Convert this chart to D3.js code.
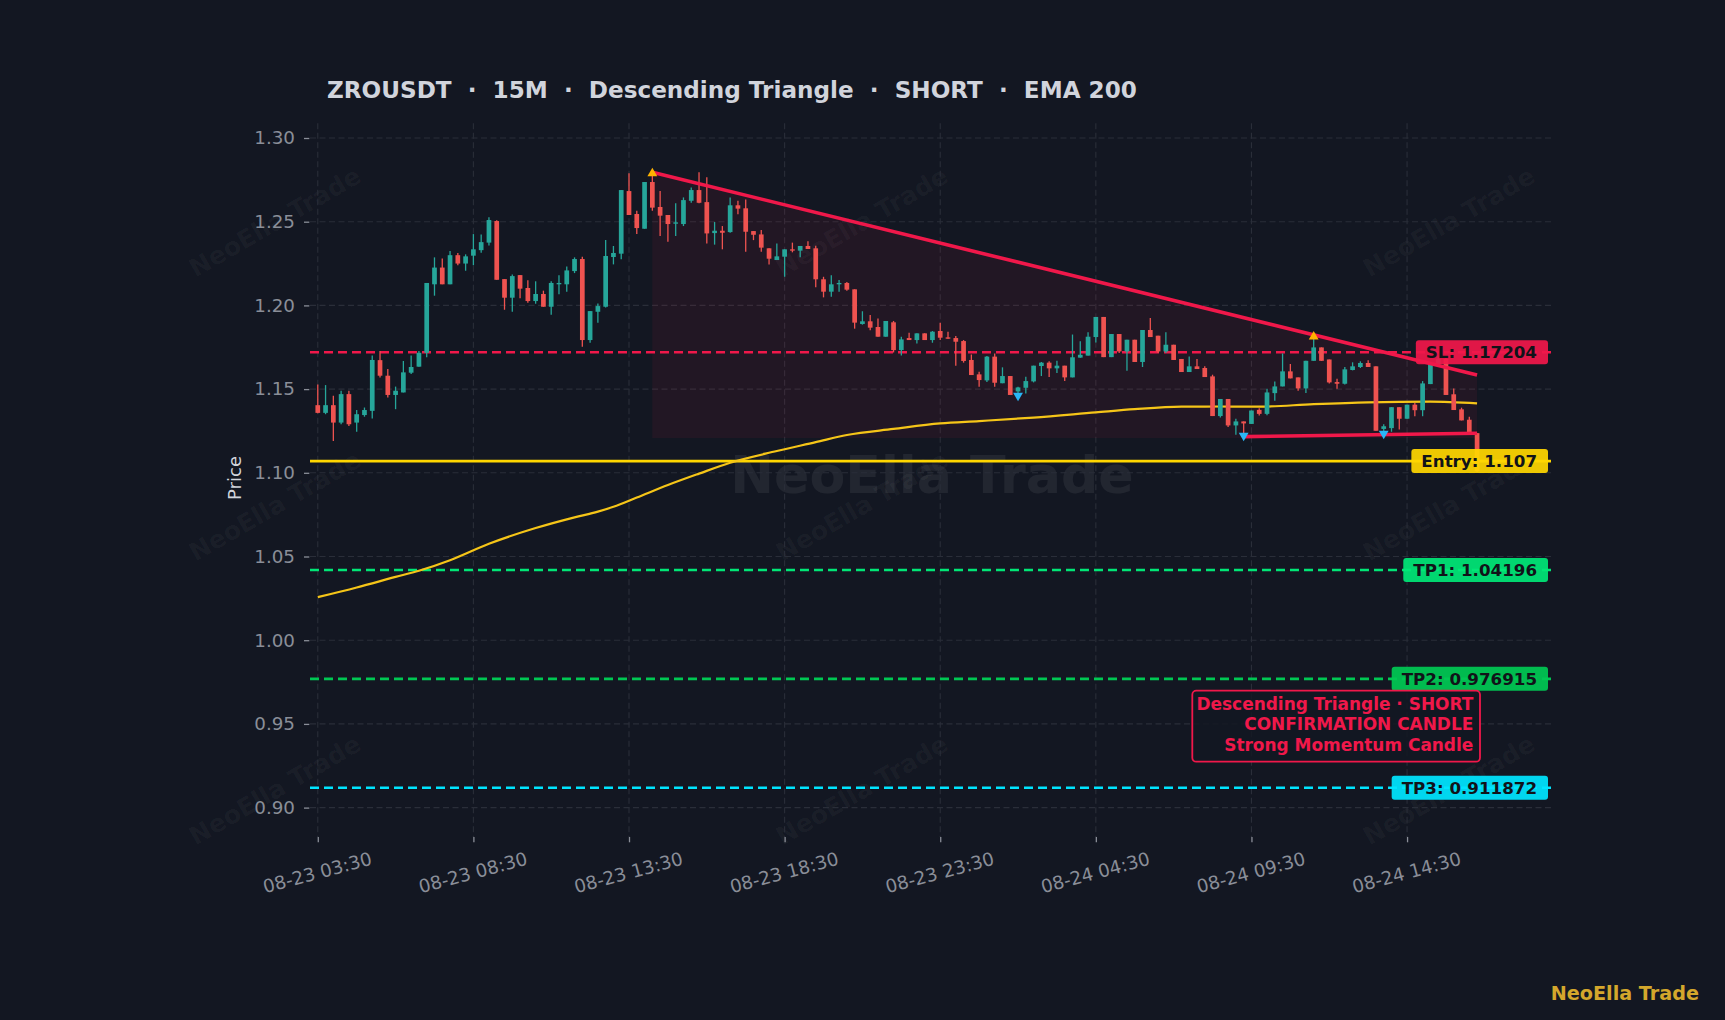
<!DOCTYPE html>
<html>
<head>
<meta charset="utf-8">
<script src="https://cdn.jsdelivr.net/npm/d3@7"></script>
<style>
  body { margin: 0; background: #131722; }
  text { font-family: "DejaVu Sans", sans-serif; }
</style>
</head>
<body>
<div id="chart"></div>
<script>
// ZROUSDT 15M candles, 08-23 03:30 onwards
const opens = [1.1404,1.1358,1.1404,1.1300,1.1470,1.1300,1.1345,1.1370,1.1673,1.1580,
  1.1465,1.1480,1.1598,1.1634,1.1717,1.2126,1.2226,1.2126,1.2300,1.2250,
  1.2297,1.2330,1.2375,1.2504,1.2157,1.2046,1.2181,1.2104,1.2026,1.2068,
  1.1992,1.2126,1.2126,1.2205,1.2277,1.1793,1.1962,1.1992,1.2289,1.2309,
  1.2683,1.2546,1.2458,1.2737,1.2588,1.2540,1.2488,1.2486,1.2625,1.2689,
  1.2617,1.2432,1.2446,1.2438,1.2598,1.2580,1.2444,1.2424,1.2341,1.2271,
  1.2291,1.2335,1.2327,1.2355,1.2341,1.2156,1.2082,1.2126,1.2134,1.2096,
  1.1889,1.1905,1.1871,1.1813,1.1899,1.1733,1.1805,1.1793,1.1833,1.1793,
  1.1847,1.1809,1.1805,1.1787,1.1674,1.1588,1.1552,1.1694,1.1535,1.1578,
  1.1486,1.1508,1.1546,1.1638,1.1658,1.1624,1.1640,1.1570,1.1688,1.1700,
  1.1811,1.1931,1.1691,1.1829,1.1725,1.1795,1.1662,1.1853,1.1819,1.1725,
  1.1765,1.1680,1.1602,1.1636,1.1626,1.1576,1.1339,1.1441,1.1283,1.1307,
  1.1292,1.1376,1.1352,1.1476,1.1516,1.1606,1.1570,1.1504,1.1669,1.1749,
  1.1677,1.1542,1.1532,1.1614,1.1632,1.1656,1.1636,1.1262,1.1267,1.1392,
  1.1323,1.1407,1.1374,1.1530,1.1650,1.1680,1.1469,1.1379,1.1317,1.1237];
const highs = [1.1528,1.1524,1.1460,1.1490,1.1490,1.1375,1.1390,1.1700,1.1727,1.1620,
  1.1515,1.1668,1.1700,1.1727,1.2134,1.2287,1.2280,1.2325,1.2313,1.2305,
  1.2426,1.2424,1.2526,1.2508,1.2157,1.2185,1.2181,1.2150,1.2144,1.2088,
  1.2144,1.2180,1.2233,1.2287,1.2291,1.1966,1.2012,1.2390,1.2355,1.2689,
  1.2789,1.2566,1.2737,1.2795,1.2683,1.2540,1.2610,1.2645,1.2705,1.2795,
  1.2765,1.2498,1.2474,1.2645,1.2625,1.2633,1.2444,1.2450,1.2341,1.2370,
  1.2335,1.2375,1.2355,1.2383,1.2357,1.2171,1.2180,1.2152,1.2140,1.2096,
  1.1965,1.1942,1.1922,1.1907,1.1907,1.1813,1.1837,1.1833,1.1833,1.1847,
  1.1897,1.1843,1.1817,1.1793,1.1707,1.1604,1.1698,1.1713,1.1630,1.1578,
  1.1514,1.1574,1.1640,1.1662,1.1666,1.1670,1.1640,1.1826,1.1786,1.1840,
  1.1931,1.1931,1.1829,1.1829,1.1795,1.1795,1.1853,1.1924,1.1819,1.1840,
  1.1765,1.1680,1.1694,1.1680,1.1636,1.1586,1.1441,1.1441,1.1323,1.1307,
  1.1372,1.1386,1.1502,1.1546,1.1713,1.1650,1.1570,1.1669,1.1819,1.1749,
  1.1677,1.1562,1.1632,1.1660,1.1666,1.1672,1.1636,1.1290,1.1392,1.1392,
  1.1407,1.1417,1.1548,1.1660,1.1700,1.1690,1.1504,1.1389,1.1335,1.1237];
const lows = [1.1355,1.1350,1.1190,1.1290,1.1280,1.1245,1.1335,1.1325,1.1570,1.1450,
  1.1380,1.1480,1.1590,1.1634,1.1690,1.2058,1.2126,1.2126,1.2240,1.2207,
  1.2240,1.2315,1.2358,1.2153,1.1974,1.1962,1.2042,1.2016,1.2010,1.1992,
  1.1944,1.2066,1.2082,1.2193,1.1753,1.1777,1.1897,1.1988,1.2245,1.2275,
  1.2540,1.2426,1.2458,1.2566,1.2414,1.2380,1.2414,1.2474,1.2613,1.2610,
  1.2370,1.2363,1.2335,1.2434,1.2544,1.2320,1.2390,1.2320,1.2245,1.2271,
  1.2171,1.2317,1.2287,1.2337,1.2108,1.2048,1.2052,1.2082,1.2088,1.1861,
  1.1885,1.1851,1.1813,1.1813,1.1719,1.1700,1.1793,1.1773,1.1793,1.1777,
  1.1793,1.1801,1.1640,1.1658,1.1584,1.1514,1.1542,1.1514,1.1535,1.1465,
  1.1458,1.1474,1.1540,1.1578,1.1572,1.1596,1.1548,1.1570,1.1688,1.1700,
  1.1779,1.1691,1.1691,1.1715,1.1609,1.1662,1.1632,1.1811,1.1715,1.1715,
  1.1674,1.1602,1.1602,1.1620,1.1572,1.1339,1.1331,1.1273,1.1227,1.1216,
  1.1292,1.1342,1.1344,1.1430,1.1516,1.1564,1.1490,1.1476,1.1669,1.1669,
  1.1534,1.1502,1.1528,1.1612,1.1626,1.1632,1.1251,1.1228,1.1245,1.1259,
  1.1323,1.1338,1.1338,1.1530,1.1648,1.1465,1.1375,1.1313,1.1237,1.1005];
const closes = [1.1358,1.1404,1.1300,1.1470,1.1290,1.1350,1.1375,1.1674,1.1580,1.1465,
  1.1490,1.1600,1.1632,1.1717,1.2134,1.2226,1.2126,1.2300,1.2250,1.2293,
  1.2335,1.2378,1.2510,1.2153,1.2046,1.2175,1.2100,1.2026,1.2068,1.1992,
  1.2134,1.2134,1.2209,1.2277,1.1793,1.1966,1.1996,1.2295,1.2313,1.2689,
  1.2540,1.2462,1.2737,1.2584,1.2536,1.2486,1.2496,1.2629,1.2689,1.2613,
  1.2430,1.2446,1.2434,1.2598,1.2578,1.2440,1.2422,1.2345,1.2279,1.2293,
  1.2335,1.2327,1.2355,1.2337,1.2156,1.2082,1.2126,1.2134,1.2094,1.1897,
  1.1905,1.1867,1.1813,1.1907,1.1733,1.1797,1.1793,1.1833,1.1793,1.1843,
  1.1807,1.1801,1.1783,1.1668,1.1584,1.1554,1.1694,1.1538,1.1578,1.1465,
  1.1510,1.1548,1.1640,1.1658,1.1624,1.1640,1.1570,1.1690,1.1705,1.1813,
  1.1931,1.1691,1.1829,1.1725,1.1795,1.1662,1.1853,1.1811,1.1725,1.1765,
  1.1674,1.1602,1.1636,1.1620,1.1572,1.1339,1.1441,1.1283,1.1307,1.1295,
  1.1372,1.1352,1.1480,1.1516,1.1606,1.1564,1.1504,1.1669,1.1749,1.1669,
  1.1540,1.1532,1.1618,1.1636,1.1656,1.1632,1.1251,1.1278,1.1392,1.1323,
  1.1407,1.1374,1.1534,1.1650,1.1680,1.1465,1.1375,1.1313,1.1237,1.1010];

// EMA 200 read at some candle indexes
const emaIdx  = [0, 5, 10, 13, 17, 22, 28, 33, 36, 38, 41, 45, 49, 53, 59, 64, 68, 74, 80, 85, 92, 100, 105, 111, 116, 121, 128, 135, 143, 149];
const emaVals = [1.0257, 1.0315, 1.0378, 1.0415, 1.0478, 1.0576, 1.0670, 1.0734, 1.0768, 1.0797, 1.0852, 1.0927, 1.0995, 1.1060, 1.1130,
  1.1183, 1.1226, 1.1262, 1.1295, 1.1309, 1.1330, 1.1361, 1.1380, 1.1395, 1.1396, 1.1395, 1.1410, 1.1421, 1.1425, 1.1415];

const xTickIdx = [0, 20, 40, 60, 80, 100, 120, 140];
const xTickLabels = ["08-23 03:30", "08-23 08:30", "08-23 13:30", "08-23 18:30", "08-23 23:30", "08-24 04:30", "08-24 09:30", "08-24 14:30"];
const yTicks = [0.90, 0.95, 1.00, 1.05, 1.10, 1.15, 1.20, 1.25, 1.30];

// trade levels
const levelNames  = ["SL", "Entry", "TP1", "TP2", "TP3"];
const levelValues = [1.17204, 1.107, 1.04196, 0.976915, 0.911872];
const levelText   = ["SL: 1.17204", "Entry: 1.107", "TP1: 1.04196", "TP2: 0.976915", "TP3: 0.911872"];

// pattern geometry: [candle index, price]
const upperLine  = [[43, 1.2795], [149, 1.1584]];
const lowerLine  = [[119, 1.1216], [149, 1.1236]];
const pivotHighs = [[43, 1.2795], [128, 1.1819]];
const pivotLows  = [[90, 1.1455], [119, 1.1216], [137, 1.1228]];
const zoneFloor  = 1.1208;

const noteLines = ["Descending Triangle · SHORT", "CONFIRMATION CANDLE", "Strong Momentum Candle"];
const title = "ZROUSDT  ·  15M  ·  Descending Triangle  ·  SHORT  ·  EMA 200";

// ---- layout
const W = 1725, H = 1020;
const margin = {top: 123.3, right: 174, bottom: 183, left: 310};
const plotR = W - margin.right, plotB = H - margin.bottom;

const bg = "#131722", crimson = "#f0184a", green = "#26a69a", red = "#ef5350";
const levelColor = {SL: crimson, Entry: "#ffd600", TP1: "#00e676", TP2: "#00c853", TP3: "#00e5ff"};

const svg = d3.select("#chart").append("svg")
  .attr("width", W).attr("height", H)
  .style("display", "block");
svg.append("rect").attr("width", W).attr("height", H).attr("fill", bg);

const x = d3.scaleLinear().domain([-1, 158.5]).range([margin.left, plotR]);
const y = d3.scaleLinear().domain([0.88244, 1.30878]).range([plotB, margin.top]);

// watermarks
const wmX = [275, 862, 1449], wmY = [222, 506, 790];
svg.append("g").selectAll("text")
  .data(d3.cross(wmX, wmY))
  .join("text")
    .attr("transform", d => `translate(${d[0]},${d[1]}) rotate(-30)`)
    .attr("text-anchor", "middle").attr("dominant-baseline", "central")
    .attr("font-size", 25).attr("font-weight", "bold")
    .attr("fill", "#ffffff").attr("fill-opacity", 0.04)
    .text("NeoElla Trade");
svg.append("text")
  .attr("x", 932).attr("y", 493)
  .attr("text-anchor", "middle")
  .attr("font-size", 52.2).attr("font-weight", "bold")
  .attr("fill", "#ffffff").attr("fill-opacity", 0.065)
  .text("NeoElla Trade");

// grid
const grid = svg.append("g").attr("stroke", "#2a2e39").attr("stroke-width", 1.1).attr("stroke-dasharray", "6,3.5");
grid.selectAll(".h").data(yTicks).join("line").attr("class", "h")
  .attr("x1", margin.left).attr("x2", plotR)
  .attr("y1", d => y(d)).attr("y2", d => y(d));
grid.selectAll(".v").data(xTickIdx).join("line").attr("class", "v")
  .attr("x1", d => x(d)).attr("x2", d => x(d))
  .attr("y1", margin.top).attr("y2", plotB);

// axes
const yAxis = d3.axisLeft(y).tickValues(yTicks).tickFormat(d3.format(".2f")).tickSize(5.3).tickPadding(9);
const gy = svg.append("g").attr("transform", `translate(${margin.left - 0.7},0)`).call(yAxis);
const xAxis = d3.axisBottom(x).tickValues(xTickIdx).tickFormat((d, i) => xTickLabels[i]).tickSize(5.3).tickPadding(0);
const gx = svg.append("g").attr("transform", `translate(0,${plotB})`).call(xAxis);
[gy, gx].forEach(g => {
  g.select(".domain").remove();
  g.selectAll(".tick line").attr("stroke", "#8a8e98").attr("stroke-width", 1.3);
  g.selectAll(".tick text").attr("fill", "#8a8e98").attr("font-size", 18.3)
    .style("font-family", "DejaVu Sans");
});
gx.selectAll(".tick text")
  .attr("y", 0).attr("dy", null)
  .attr("text-anchor", "middle").attr("dominant-baseline", "central")
  .attr("transform", "translate(-1,35.5) rotate(-15)");

svg.append("text")
  .attr("transform", "translate(234,478) rotate(-90)")
  .attr("text-anchor", "middle").attr("dominant-baseline", "central")
  .attr("font-size", 18).attr("fill", "#d1d4dc")
  .text("Price");

// triangle zone
svg.append("path")
  .attr("d", d3.line()([
    [x(upperLine[0][0]), y(upperLine[0][1])],
    [x(upperLine[1][0]), y(upperLine[1][1])],
    [x(upperLine[1][0]), y(zoneFloor)],
    [x(upperLine[0][0]), y(zoneFloor)]]) + "Z")
  .attr("fill", crimson).attr("fill-opacity", 0.07);

// level lines
svg.append("g").selectAll("line")
  .data(levelNames)
  .join("line")
    .attr("x1", margin.left).attr("x2", plotR)
    .attr("y1", (d, i) => y(levelValues[i])).attr("y2", (d, i) => y(levelValues[i]))
    .attr("stroke", d => levelColor[d])
    .attr("stroke-width", d => d === "Entry" ? 2.8 : 2.6)
    .attr("stroke-dasharray", d => d === "Entry" ? null : "9,5");

// EMA 200
svg.append("path")
  .datum(emaIdx.map((d, i) => [d, emaVals[i]]))
  .attr("d", d3.line().x(d => x(d[0])).y(d => y(d[1])).curve(d3.curveMonotoneX))
  .attr("fill", "none").attr("stroke", "#f5c518").attr("stroke-width", 2.2);

// candles
const candles = d3.range(opens.length).map(i => ({i, o: opens[i], h: highs[i], l: lows[i], c: closes[i]}));
const cg = svg.append("g").selectAll("g").data(candles).join("g");
cg.append("line")
  .attr("x1", d => x(d.i)).attr("x2", d => x(d.i))
  .attr("y1", d => y(d.h)).attr("y2", d => y(d.l))
  .attr("stroke", d => d.c >= d.o ? green : red).attr("stroke-width", 1.3);
cg.append("rect")
  .attr("x", d => x(d.i) - 2.35).attr("width", 4.7)
  .attr("y", d => y(Math.max(d.o, d.c)))
  .attr("height", d => Math.max(1.2, Math.abs(y(d.o) - y(d.c))))
  .attr("fill", d => d.c >= d.o ? green : red);

// pattern lines
[upperLine, lowerLine].forEach(seg => {
  svg.append("path")
    .attr("d", d3.line().x(d => x(d[0])).y(d => y(d[1]))(seg))
    .attr("fill", "none").attr("stroke", crimson).attr("stroke-width", 3.6);
});

// pivots
svg.append("g").selectAll("path").data(pivotHighs).join("path")
  .attr("d", d3.symbol(d3.symbolTriangle, 42))
  .attr("transform", d => `translate(${x(d[0])},${y(d[1]) + 1})`)
  .attr("fill", "#ffb300");
svg.append("g").selectAll("path").data(pivotLows).join("path")
  .attr("d", d3.symbol(d3.symbolTriangle, 42))
  .attr("transform", d => `translate(${x(d[0])},${y(d[1]) - 1}) rotate(180)`)
  .attr("fill", "#29b6f6");

// level tags on the right
const tags = svg.append("g").selectAll("g").data(levelNames).join("g")
  .attr("transform", (d, i) => `translate(1548,${y(levelValues[i])})`);
tags.append("rect").attr("class", "tagbox")
  .attr("y", -12).attr("height", 24).attr("rx", 3)
  .attr("fill", d => levelColor[d]).attr("fill-opacity", 0.93);
tags.append("text")
  .attr("x", -11).attr("text-anchor", "end").attr("dominant-baseline", "central")
  .attr("font-size", 16.7).attr("font-weight", "bold").attr("fill", "#111319")
  .text((d, i) => levelText[i]);
tags.each(function() {
  const w = d3.select(this).select("text").node().getComputedTextLength();
  d3.select(this).select("rect").attr("x", -w - 21).attr("width", w + 21);
});

// note box
const note = svg.append("g");
note.append("rect")
  .attr("x", 1192.3).attr("y", 690.7).attr("width", 287.7).attr("height", 71).attr("rx", 4)
  .attr("fill", bg).attr("fill-opacity", 0.85)
  .attr("stroke", crimson).attr("stroke-width", 1.8);
note.selectAll("text").data(noteLines).join("text")
  .attr("x", 1473.3).attr("y", (d, i) => 710 + i * 20.4)
  .attr("text-anchor", "end")
  .attr("font-size", 16.95).attr("font-weight", "bold").attr("fill", crimson)
  .text(d => d);

// title and footer
svg.append("text")
  .attr("x", 327).attr("y", 97.7)
  .style("white-space", "pre")
  .attr("font-size", 23.14).attr("font-weight", "bold").attr("fill", "#d1d4dc")
  .text(title);
svg.append("text")
  .attr("x", 1699).attr("y", 1000)
  .attr("text-anchor", "end")
  .attr("font-size", 19.2).attr("font-weight", "bold").attr("fill", "#d4a72c")
  .text("NeoElla Trade");
</script>
</body>
</html>
